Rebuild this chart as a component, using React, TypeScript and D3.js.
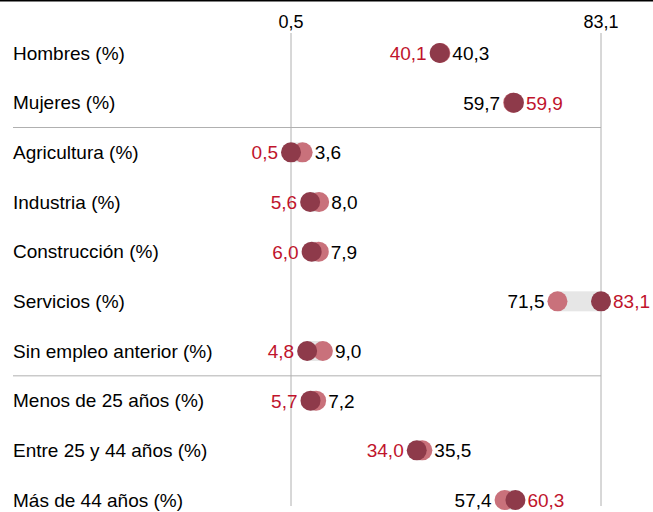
import React from "react";
import * as d3 from "d3";

const categories = [
  "Hombres (%)",
  "Mujeres (%)",
  "Agricultura (%)",
  "Industria (%)",
  "Construcción (%)",
  "Servicios (%)",
  "Sin empleo anterior (%)",
  "Menos de 25 años (%)",
  "Entre 25 y 44 años (%)",
  "Más de 44 años (%)",
];
const darkValues = [40.1, 59.9, 0.5, 5.6, 6.0, 83.1, 4.8, 5.7, 34.0, 60.3];
const lightValues = [40.3, 59.7, 3.6, 8.0, 7.9, 71.5, 9.0, 7.2, 35.5, 57.4];
const tickValues = [0.5, 83.1];
const separatorsAfter = [1, 6];

const W = 653;
const H = 512;
const FONT = "'Liberation Sans', Arial, sans-serif";
const DARK = "#8E3A4A";
const LIGHT = "#C9717B";
const RED = "#C0142C";
const GRID = "#b0b0b0";
const R = 10;

const fmt = (v: number) => v.toFixed(1).replace(".", ",");

export default function App() {
  const x = d3.scaleLinear().domain([0.5, 83.1]).range([291, 601]);
  const y = d3
    .scalePoint<string>()
    .domain(categories)
    .range([53, 500]);

  return (
    <svg
      width={W}
      height={H}
      style={{ position: "absolute", left: 0, top: 0, display: "block" }}
      fontFamily={FONT}
    >
      <rect x={0} y={0} width={W} height={H} fill="#fff" />
      <line x1={0} x2={W} y1={0.75} y2={0.75} stroke="#000" strokeWidth={1.5} />
      {tickValues.map((t) => (
        <g key={t}>
          <line x1={x(t)} x2={x(t)} y1={33} y2={506} stroke={GRID} strokeWidth={1} />
          <text x={x(t)} y={28} textAnchor="middle" fontSize={18} fill="#000">
            {fmt(t)}
          </text>
        </g>
      ))}
      {separatorsAfter.map((i) => {
        const yy = ((y(categories[i]) as number) + (y(categories[i + 1]) as number)) / 2;
        return (
          <line key={i} x1={13} x2={601} y1={yy} y2={yy} stroke={GRID} strokeWidth={1} />
        );
      })}
      {categories.map((c, i) => {
        const cy = y(c) as number;
        const d = darkValues[i];
        const l = lightValues[i];
        const xd = x(d);
        const xl = x(l);
        const darkLeft = d <= l;
        const lo = Math.min(xd, xl);
        const hi = Math.max(xd, xl);
        return (
          <g key={c}>
            <text x={13} y={cy + 6.5} fontSize={19} fill="#000">
              {c}
            </text>
            <rect x={lo} y={cy - R} width={hi - lo} height={2 * R} fill="#e6e6e6" />
            <circle cx={xl} cy={cy} r={R} fill={LIGHT} />
            <circle cx={xd} cy={cy} r={R} fill={DARK} />
            <text
              x={darkLeft ? lo - R - 3 : hi + R + 2}
              y={cy + 7}
              textAnchor={darkLeft ? "end" : "start"}
              fontSize={19}
              fill={RED}
            >
              {fmt(d)}
            </text>
            <text
              x={darkLeft ? hi + R + 2 : lo - R - 3}
              y={cy + 7}
              textAnchor={darkLeft ? "start" : "end"}
              fontSize={19}
              fill="#000"
            >
              {fmt(l)}
            </text>
          </g>
        );
      })}
    </svg>
  );
}
